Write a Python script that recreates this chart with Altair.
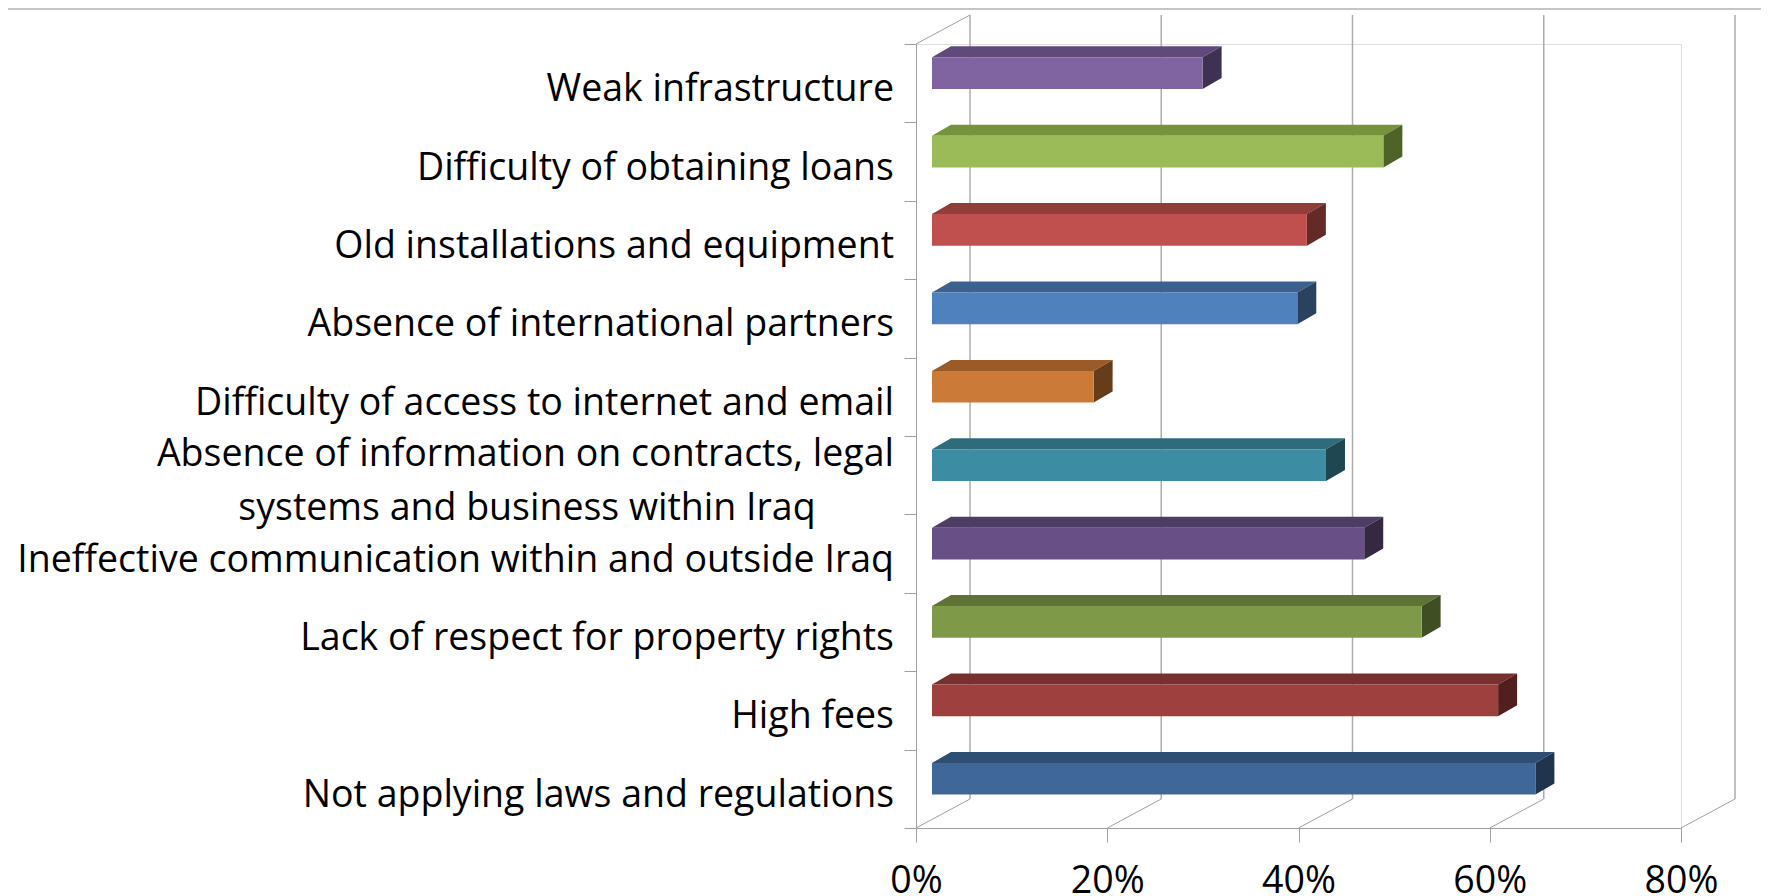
import altair as alt
import pandas as pd

# ---------------- data ----------------
categories = [
    "Weak infrastructure",
    "Difficulty of obtaining loans",
    "Old installations and equipment",
    "Absence of international partners",
    "Difficulty of access to internet and email",
    "Absence of information on contracts, legal\nsystems and business within Iraq",
    "Ineffective communication within and outside Iraq",
    "Lack of respect for property rights",
    "High fees",
    "Not applying laws and regulations",
]
values = [28.3, 47.2, 39.2, 38.2, 16.9, 41.2, 45.2, 51.2, 59.2, 63.1]
x_ticks = [0, 20, 40, 60, 80]

# palette (front / top / side faces)
front_colors = ["#8064A2", "#9BBB59", "#C0504D", "#4F81BD", "#CB7A37",
                "#3C8DA3", "#685086", "#7E9A48", "#9E413E", "#3F6899"]
top_colors = ["#604A7B", "#76923C", "#913D3A", "#3B618E", "#9A5B29",
              "#2E6B7B", "#4E3C65", "#5F7336", "#78302E", "#2F4E73"]
side_colors = ["#3F3151", "#4F6228", "#632A28", "#2A4260", "#663C1B",
               "#1F4752", "#352843", "#404E24", "#511F1E", "#20344D"]

# ---------------- geometry (styles) ----------------
W, H = 765, 784
N = len(categories)
PX_PCT = W / 80.0          # pixels per percent
ROW = H / N                # pixels per row
WALL_DX, WALL_DY = 54, -29
BAR_SHIFT = 16 / PX_PCT    # bar sits a little inside the floor depth
BAR_DX = 19 / PX_PCT
BAR_DY = 11 / ROW
FACE_TOP = 13.3 / ROW
FACE_BOT = 45.0 / ROW
FONT = "Open Sans"
FS = 37.5
LINE_GAP = 54 / ROW
GRAY = "#A0A0A0"

# ---------------- tables ----------------
front_rows, top_rows, side_rows, label_rows = [], [], [], []
for i, (cat, v) in enumerate(zip(categories, values)):
    yf, yb = i + FACE_TOP, i + FACE_TOP - BAR_DY
    h = FACE_BOT - FACE_TOP
    x0, x1 = BAR_SHIFT, BAR_SHIFT + v
    front_rows.append(dict(cat=cat, x=x0, x2=x1, y=yf, y2=yf + h, c=front_colors[i]))
    top_rows += [dict(cat=cat, y=yb, x=x0 + BAR_DX, x2=x1 + BAR_DX, c=top_colors[i]),
                 dict(cat=cat, y=yf, x=x0, x2=x1, c=top_colors[i])]
    side_rows += [dict(cat=cat, x=x1, y=yf, y2=yf + h, c=side_colors[i]),
                  dict(cat=cat, x=x1 + BAR_DX, y=yb, y2=yb + h, c=side_colors[i])]
    lines = cat.split("\n")
    n = len(lines)
    for j, t in enumerate(lines):
        label_rows.append(dict(text=t, y=i + 0.5 + (j - (n - 1) / 2) * LINE_GAP, first=(j == 0)))

front_df = pd.DataFrame(front_rows)
top_df = pd.DataFrame(top_rows)
side_df = pd.DataFrame(side_rows)
label_df = pd.DataFrame(label_rows)
tick_df = pd.DataFrame({"v": x_ticks})

xs = alt.Scale(domain=[0, 80], nice=False, zero=False)
ys = alt.Scale(domain=[0, N], reverse=True, nice=False, zero=False)

# ---------------- walls ----------------
base_t = alt.Chart(tick_df)
back_grid = base_t.mark_rule(color="#ACACAC", strokeWidth=1.5,
                             xOffset=WALL_DX, yOffset=WALL_DY, y2Offset=WALL_DY).encode(
    x=alt.X("v:Q", scale=xs,
            axis=alt.Axis(values=x_ticks, labelExpr="datum.value + '%'", grid=False,
                          tickSize=14, tickColor=GRAY, domainColor=GRAY,
                          labelFont=FONT, labelFontSize=FS, labelColor="black",
                          labelFlush=False, labelPadding=20, title=None)),
    y=alt.datum(0, scale=ys,
                axis=alt.Axis(values=list(range(N + 1)), labels=False, grid=False,
                              tickSize=12, tickColor=GRAY, domainColor=GRAY, title=None)),
    y2=alt.datum(N),
)
floor_diag = base_t.mark_rule(color=GRAY, strokeWidth=1,
                              x2Offset=WALL_DX, y2Offset=WALL_DY).encode(
    x="v:Q", x2="v:Q", y=alt.datum(N), y2=alt.datum(N))
top_diag = alt.Chart(pd.DataFrame({"v": [0]})).mark_rule(
    color=GRAY, strokeWidth=1, x2Offset=WALL_DX, y2Offset=WALL_DY).encode(
    x="v:Q", x2="v:Q", y=alt.datum(0), y2=alt.datum(0))

top_line = alt.Chart(pd.DataFrame({"v": [0]})).mark_rule(color="#8C8C8C", strokeWidth=1.2).encode(
    x=alt.value(-916), x2=alt.value(853), y=alt.value(-35))

# ---------------- bars ----------------
top_face = alt.Chart(top_df).mark_area(orient="horizontal", interpolate="linear").encode(
    y="y:Q", x="x:Q", x2="x2:Q", detail="cat:N", color=alt.Color("c:N", scale=None))
side_face = alt.Chart(side_df).mark_area(orient="vertical", interpolate="linear").encode(
    x="x:Q", y="y:Q", y2="y2:Q", detail="cat:N", color=alt.Color("c:N", scale=None))
front_face = alt.Chart(front_df).mark_rect().encode(
    x="x:Q", x2="x2:Q", y="y:Q", y2="y2:Q", color=alt.Color("c:N", scale=None))

# ---------------- category labels ----------------
lab_first = alt.Chart(label_df).transform_filter("datum.first").mark_text(
    align="right", baseline="alphabetic", font=FONT, fontSize=FS, color="black",
    xOffset=-22, yOffset=18).encode(x=alt.datum(0), y="y:Q", text="text:N")
lab_cont = alt.Chart(label_df).transform_filter("!datum.first").mark_text(
    align="center", baseline="alphabetic", font=FONT, fontSize=FS, color="black",
    xOffset=-389, yOffset=18).encode(x=alt.datum(0), y="y:Q", text="text:N")

chart = alt.layer(back_grid, floor_diag, top_diag, top_line,
                  top_face, side_face, front_face, lab_first, lab_cont).properties(
    width=W, height=H,
    autosize=alt.AutoSizeParams(type="none"),
    padding={"left": 908, "top": 36, "right": 80, "bottom": 68},
).configure_view(strokeWidth=0).configure(background="white")

chart.save("out.html", embed_options={"renderer": "svg", "actions": False})
